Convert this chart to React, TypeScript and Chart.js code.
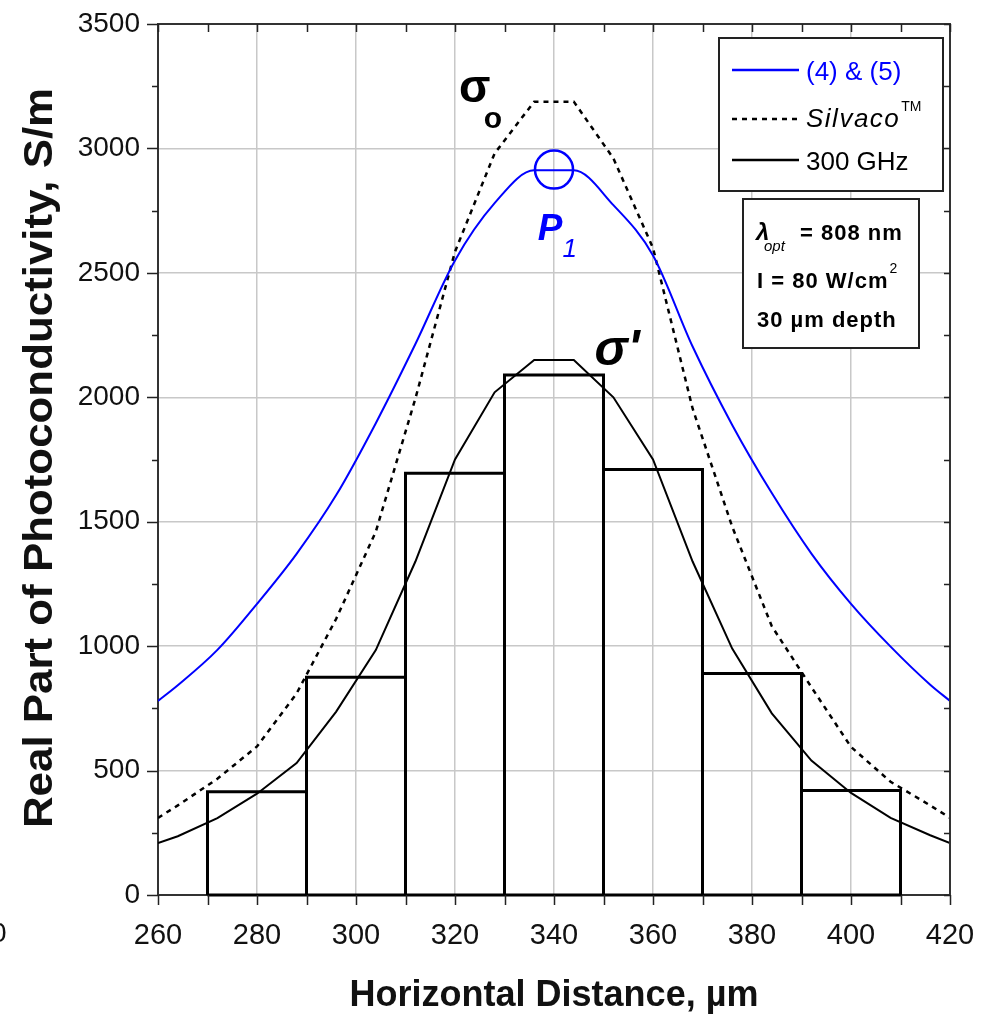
import React, { useEffect, useRef } from 'react';
import { Chart, registerables } from 'chart.js';

Chart.register(...registerables);

// ---------- data ----------
const sampleX = [260, 264, 272, 280, 288, 296, 304, 312, 320, 328, 336, 344, 352, 360, 368, 376, 384, 392, 400, 408, 416, 420];
const modelBlue = [780, 843, 985, 1170, 1371, 1607, 1896, 2214, 2550, 2780, 2912, 2912, 2772, 2570, 2204, 1889, 1615, 1372, 1170, 998, 845, 780];
const silvacoDashed = [310, 360, 467, 597, 810, 1110, 1460, 1995, 2585, 2980, 3188, 3188, 2960, 2600, 1955, 1480, 1080, 835, 595, 455, 360, 310];
const ghz300Solid = [209, 236, 309, 407, 530, 737, 984, 1340, 1750, 2020, 2150, 2150, 2000, 1750, 1340, 990, 730, 540, 410, 310, 240, 209];

const binEdges = [270, 290, 310, 330, 350, 370, 390, 410];
const binValues = [415, 875, 1695, 2090, 1710, 890, 420];

const peakP1 = [{ x: 340, y: 2915 }];

const xTickValues = [260, 280, 300, 320, 340, 360, 380, 400, 420];
const yTickValues = [0, 500, 1000, 1500, 2000, 2500, 3000, 3500];
const xMinorStep = 10;
const yMinorStep = 250;

const legendLabels = ['(4) & (5)', 'Silvaco', '300 GHz'];
const conditionLines = ['= 808 nm', 'I = 80 W/cm', '30 µm depth'];

// ---------- helpers ----------
const FONT = '"Liberation Sans", Arial, sans-serif';

function histogramOutline(edges: number[], vals: number[]) {
  const pts: { x: number; y: number }[] = [];
  for (let i = 0; i < vals.length; i++) {
    pts.push({ x: edges[i], y: 0 });
    pts.push({ x: edges[i], y: vals[i] });
    pts.push({ x: edges[i + 1], y: vals[i] });
    pts.push({ x: edges[i + 1], y: 0 });
  }
  pts.push({ x: edges[0], y: 0 });
  return pts;
}

function zip(xs: number[], ys: number[]) {
  return xs.map((x, i) => ({ x, y: ys[i] }));
}

const overlayPlugin = {
  id: 'overlay',
  afterDraw(chart: any) {
    const { ctx, chartArea: a, scales } = chart;
    const xs = scales.x;
    const ys = scales.y;
    const px = (v: number) => xs.getPixelForValue(v);
    const py = (v: number) => ys.getPixelForValue(v);
    ctx.save();

    // frame top & right
    ctx.strokeStyle = '#333';
    ctx.lineWidth = 2;
    ctx.beginPath();
    ctx.moveTo(a.left, a.top);
    ctx.lineTo(a.right, a.top);
    ctx.lineTo(a.right, a.bottom);
    ctx.stroke();

    // ticks
    ctx.lineWidth = 1.5;
    ctx.strokeStyle = '#222';
    const x0 = xTickValues[0];
    const x1 = xTickValues[xTickValues.length - 1];
    for (let v = x0; v <= x1 + 0.001; v += xMinorStep) {
      const p = Math.round(px(v)) + 0.5;
      ctx.beginPath();
      ctx.moveTo(p, a.bottom);
      ctx.lineTo(p, a.bottom + 10);
      ctx.moveTo(p, a.top);
      ctx.lineTo(p, a.top + 8);
      ctx.stroke();
    }
    const y0 = yTickValues[0];
    const y1 = yTickValues[yTickValues.length - 1];
    for (let v = y0; v <= y1 + 0.001; v += yMinorStep) {
      const p = Math.round(py(v)) + 0.5;
      const major = v % 500 === 0;
      ctx.beginPath();
      ctx.moveTo(a.left, p);
      ctx.lineTo(a.left - (major ? 11 : 6), p);
      ctx.moveTo(a.right, p);
      ctx.lineTo(a.right - 6, p);
      ctx.stroke();
    }

    // axis titles
    ctx.fillStyle = '#111';
    ctx.textAlign = 'center';
    ctx.textBaseline = 'alphabetic';
    ctx.font = `bold 36px ${FONT}`;
    ctx.fillText('Horizontal Distance, µm', (a.left + a.right) / 2, 1006);
    ctx.save();
    ctx.translate(52, 458);
    ctx.rotate(-Math.PI / 2);
    ctx.scale(1.07, 1);
    ctx.font = `bold 41px ${FONT}`;
    ctx.fillText('Real Part of Photoconductivity, S/m', 0, 0);
    ctx.restore();

    // clipped remnant glyph at the far left edge of the original figure
    ctx.textAlign = 'left';
    ctx.font = `28px ${FONT}`;
    ctx.fillText('0', -9, 942);

    // curve labels
    ctx.fillStyle = '#000';
    ctx.font = `bold 46px ${FONT}`;
    ctx.fillText('σ', px(320.8), 102);
    ctx.font = `bold 30px ${FONT}`;
    ctx.fillText('o', px(325.8), 128);
    ctx.font = `italic bold 50px ${FONT}`;
    ctx.fillText("σ'", px(348.2), 365);
    ctx.fillStyle = '#0000ff';
    ctx.font = `italic bold 37px ${FONT}`;
    ctx.fillText('P', px(336.7), 240);
    ctx.font = `italic 26px ${FONT}`;
    ctx.fillText('1', px(341.7), 257);

    // legend box
    const lx = 719, lt = 38, lw = 224, lh = 153;
    ctx.fillStyle = '#fff';
    ctx.fillRect(lx, lt, lw, lh);
    ctx.strokeStyle = '#222';
    ctx.lineWidth = 2;
    ctx.strokeRect(lx, lt, lw, lh);
    const rows = [70, 119, 160];
    const styles = [
      { c: '#0000ff', d: [] as number[], w: 2.5 },
      { c: '#000', d: [5, 5], w: 2.5 },
      { c: '#000', d: [] as number[], w: 2.5 },
    ];
    rows.forEach((ry, i) => {
      ctx.beginPath();
      ctx.setLineDash(styles[i].d);
      ctx.strokeStyle = styles[i].c;
      ctx.lineWidth = styles[i].w;
      ctx.moveTo(732, ry);
      ctx.lineTo(799, ry);
      ctx.stroke();
    });
    ctx.setLineDash([]);
    ctx.textAlign = 'left';
    ctx.fillStyle = '#0000ff';
    ctx.font = `26px ${FONT}`;
    ctx.fillText(legendLabels[0], 806, 80);
    ctx.fillStyle = '#000';
    ctx.font = `italic 26px ${FONT}`;
    (ctx as any).letterSpacing = '1.5px';
    ctx.fillText(legendLabels[1], 806, 127);
    const sw = ctx.measureText(legendLabels[1]).width;
    (ctx as any).letterSpacing = '0px';
    ctx.font = `14px ${FONT}`;
    ctx.fillText('TM', 806 + sw + 1, 111);
    ctx.font = `26px ${FONT}`;
    ctx.fillText(legendLabels[2], 806, 170);

    // conditions box
    const bx = 743, bt = 199, bw = 176, bh = 149;
    ctx.fillStyle = '#fff';
    ctx.fillRect(bx, bt, bw, bh);
    ctx.strokeStyle = '#222';
    ctx.lineWidth = 2;
    ctx.strokeRect(bx, bt, bw, bh);
    ctx.fillStyle = '#000';
    ctx.font = `italic bold 24px ${FONT}`;
    ctx.fillText('λ', 756, 240);
    ctx.font = `italic 15px ${FONT}`;
    ctx.fillText('opt', 764, 251);
    (ctx as any).letterSpacing = '1px';
    ctx.font = `bold 22px ${FONT}`;
    ctx.fillText(conditionLines[0], 800, 240);
    ctx.fillText(conditionLines[1], 757, 288);
    const cw = ctx.measureText(conditionLines[1]).width;
    ctx.fillText(conditionLines[2], 757, 327);
    (ctx as any).letterSpacing = '0px';
    ctx.font = `14px ${FONT}`;
    ctx.fillText('2', 757 + cw + 1, 273);

    ctx.restore();
  },
};

export default function App() {
  const ref = useRef<HTMLCanvasElement | null>(null);

  useEffect(() => {
    document.body.style.margin = '0';
    const canvas = ref.current;
    if (!canvas) return;
    const chart = new Chart(canvas, {
      type: 'line',
      data: {
        datasets: [
          {
            label: 'P1',
            type: 'scatter',
            data: peakP1,
            pointRadius: 19,
            pointStyle: 'circle',
            borderColor: '#0000ff',
            borderWidth: 2.5,
            backgroundColor: 'rgba(0,0,0,0)',
            showLine: false,
          } as any,
          {
            label: '(4) & (5)',
            data: zip(sampleX, modelBlue),
            borderColor: '#0000ff',
            borderWidth: 2,
            pointRadius: 0,
            cubicInterpolationMode: 'monotone',
            fill: false,
          },
          {
            label: 'Silvaco',
            data: zip(sampleX, silvacoDashed),
            borderColor: '#000',
            borderWidth: 2.5,
            borderDash: [5, 5],
            pointRadius: 0,
            tension: 0,
            fill: false,
          },
          {
            label: '300 GHz',
            data: zip(sampleX, ghz300Solid),
            borderColor: '#000',
            borderWidth: 2,
            pointRadius: 0,
            tension: 0,
            fill: false,
          },
          {
            label: 'bins',
            data: histogramOutline(binEdges, binValues),
            borderColor: '#000',
            borderWidth: 3,
            pointRadius: 0,
            tension: 0,
            fill: false,
            borderJoinStyle: 'miter',
            clip: 6,
          } as any,
        ],
      },
      options: {
        responsive: false,
        animation: false,
        events: [],
        layout: { padding: { top: 24, right: 50, left: 0, bottom: 0 } },
        plugins: {
          legend: { display: false },
          tooltip: { enabled: false },
          title: { display: false },
        },
        scales: {
          x: {
            type: 'linear',
            min: xTickValues[0],
            max: xTickValues[xTickValues.length - 1],
            afterBuildTicks: (s: any) => {
              s.ticks = xTickValues.map((v) => ({ value: v }));
            },
            afterFit: (s: any) => {
              s.height = 123;
              s.paddingLeft = 0;
              s.paddingRight = 0;
            },
            ticks: {
              color: '#111',
              font: { family: FONT, size: 29 },
              padding: 24,
              maxRotation: 0,
              autoSkip: false,
              callback: (v: any) => String(v),
            },
            grid: { color: '#c8c8c8', lineWidth: 1.5, drawTicks: false },
            border: { display: true, color: '#333', width: 2 },
          },
          y: {
            type: 'linear',
            min: yTickValues[0],
            max: yTickValues[yTickValues.length - 1],
            afterBuildTicks: (s: any) => {
              s.ticks = yTickValues.map((v) => ({ value: v }));
            },
            afterFit: (s: any) => {
              s.width = 158;
              s.paddingTop = 0;
              s.paddingBottom = 0;
            },
            ticks: {
              color: '#111',
              font: { family: FONT, size: 28 },
              padding: 18,
              autoSkip: false,
              callback: (v: any) => String(v),
            },
            grid: { color: '#c8c8c8', lineWidth: 1.5, drawTicks: false },
            border: { display: true, color: '#333', width: 2 },
          },
        },
      },
      plugins: [overlayPlugin],
    });
    return () => chart.destroy();
  }, []);

  return (
    <div style={{ width: 1000, height: 1018 }}>
      <canvas ref={ref} width={1000} height={1018} style={{ width: 1000, height: 1018, display: 'block' }} />
    </div>
  );
}
